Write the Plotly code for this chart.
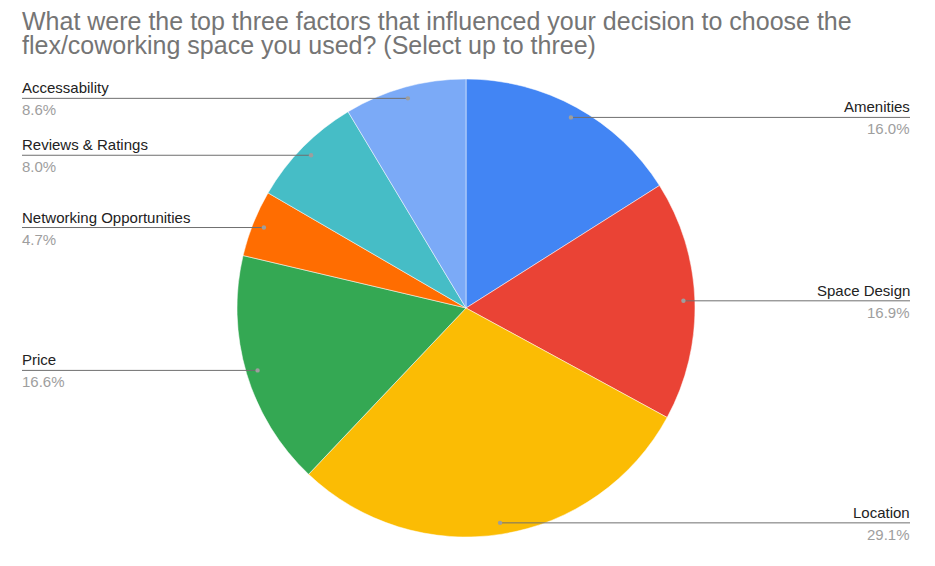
import math
import plotly.graph_objects as go

# ---- data ----
categories = ["Amenities", "Space Design", "Location", "Price",
              "Networking Opportunities", "Reviews & Ratings", "Accessability"]
values = [16.0, 16.9, 29.1, 16.6, 4.7, 8.0, 8.6]
colors = ["#4285F4", "#EA4335", "#FBBC04", "#34A853",
          "#FF6D01", "#46BDC6", "#7BAAF7"]
title_lines = ["What were the top three factors that influenced your decision to choose the",
               "flex/coworking space you used? (Select up to three)"]

# ---- layout geometry (screen pixels) ----
W, H = 935, 566
OFF = 8  # page body margin
cx, cy, R = 466, 308, 229
LEFT_X, RIGHT_X = 22, 910


def px(x):
    return (x - OFF) / W


def py(y):
    return 1 - (y - OFF) / H


fig = go.Figure()
fig.add_trace(go.Pie(
    labels=categories, values=values, sort=False, direction="clockwise",
    rotation=0, marker=dict(colors=colors, line=dict(color="white", width=0.5)),
    textinfo="none", hoverinfo="label+percent", showlegend=False,
    domain=dict(x=[px(cx - R), px(cx + R)], y=[py(cy + R), py(cy - R)]),
))

shapes = []
annotations = []
total = sum(values)
cum = 0.0
for name, v in zip(categories, values):
    mid = (cum + v / 2) / total * 2 * math.pi
    cum += v
    rd = 0.95 * R
    dx = cx + rd * math.sin(mid)
    dy = cy - rd * math.cos(mid)
    pct = f"{v / total * 100:.1f}%"
    right = math.sin(mid) > 0
    x_end = RIGHT_X if right else LEFT_X
    shapes.append(dict(type="line", xref="paper", yref="paper",
                       x0=px(dx), y0=py(dy), x1=px(x_end), y1=py(dy),
                       line=dict(color="#6f6f6f", width=1)))
    shapes.append(dict(type="circle", xref="paper", yref="paper",
                       x0=px(dx - 2.2), x1=px(dx + 2.2),
                       y0=py(dy + 2.2), y1=py(dy - 2.2),
                       fillcolor="#9e9e9e", line=dict(width=0)))
    anchor = "right" if right else "left"
    tx = x_end + (1 if right else -1)
    annotations.append(dict(text=name, x=px(tx), y=py(dy - 1), xref="paper", yref="paper",
                            xanchor=anchor, yanchor="bottom", showarrow=False,
                            font=dict(size=15, color="#222222"), borderpad=0))
    annotations.append(dict(text=pct, x=px(tx), y=py(dy + 2), xref="paper", yref="paper",
                            xanchor=anchor, yanchor="top", showarrow=False,
                            font=dict(size=15, color="#9e9e9e"), borderpad=0))

for i, line in enumerate(title_lines):
    annotations.append(dict(text=line, x=px(21), y=py(36 + 24 * i), xref="paper", yref="paper",
                            xanchor="left", yanchor="bottom", align="left", showarrow=False,
                            font=dict(size=25, color="#757575"), borderpad=0))

fig.update_layout(
    width=W, height=H, margin=dict(l=0, r=0, t=0, b=0),
    paper_bgcolor="white", plot_bgcolor="white",
    font=dict(family="Liberation Sans, Arial, sans-serif"),
    shapes=shapes, annotations=annotations,
)

fig.write_html("out.html")
